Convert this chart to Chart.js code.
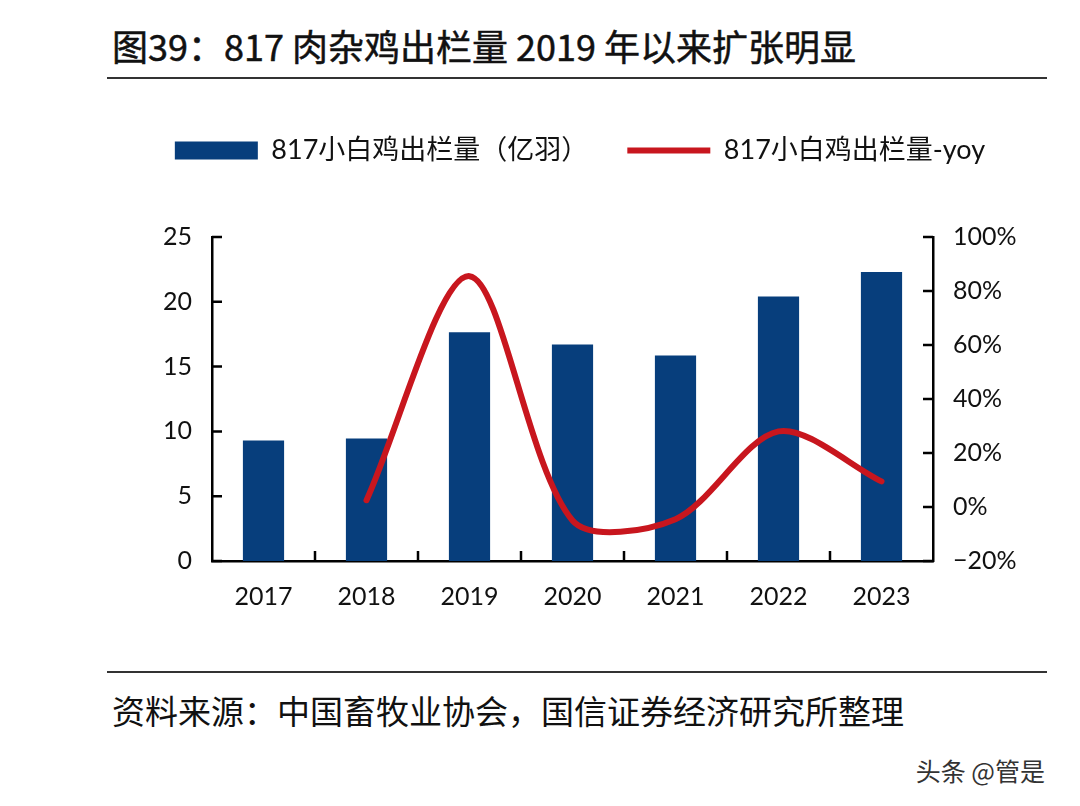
<!DOCTYPE html>
<html lang="zh-CN">
<head>
<meta charset="utf-8">
<title>817 肉杂鸡出栏量</title>
<script src="https://cdn.jsdelivr.net/npm/chart.js@4"></script>
<style>
  html, body { margin: 0; padding: 0; background: #fff; }
  body { width: 1080px; height: 806px; position: relative; overflow: hidden; }
  .zh { font-family: "Noto Sans CJK SC", sans-serif; color: #111; position: absolute; white-space: nowrap; }
  #tytul { left: 112px; top: 20px; font-size: 36px; font-weight: 400; line-height: 50px; -webkit-text-stroke: 0.5px #111; }
  .kreska { position: absolute; left: 107px; width: 940px; height: 2px; background: #333; }
  #zrodlo { left: 112px; top: 688px; font-size: 33px; line-height: 44px; }
  #znak { right: 35px; top: 755px; font-size: 25px; line-height: 30px; color: #333; font-weight: 400; }
  #wykres { position: absolute; left: 80px; top: 98px; }
</style>
</head>
<body>
<div id="tytul" class="zh">图39：817 肉杂鸡出栏量 2019 年以来扩张明显</div>
<div class="kreska" style="top:77px"></div>
<canvas id="wykres" width="1000" height="535"></canvas>
<div class="kreska" style="top:671px"></div>
<div id="zrodlo" class="zh">资料来源：中国畜牧业协会，国信证券经济研究所整理</div>
<div id="znak" class="zh">头条 @管是</div>

<script>
// dane
const lata = ["2017", "2018", "2019", "2020", "2021", "2022", "2023"];
const wolumen = [9.3, 9.45, 17.65, 16.7, 15.85, 20.4, 22.3]; // 亿羽
const dynamikaRdr = [null, 2.5, 85.5, -5, -4.5, 28, 9.5]; // %
const lewaOsTicks = [0, 5, 10, 15, 20, 25];
const prawaOsTicks = [-20, 0, 20, 40, 60, 80, 100];

const GRANAT = "#073e7c";
const CZERWIEN = "#c8161e";
const fontOsi = { family: "Lato, 'Noto Sans CJK SC', sans-serif", size: 25 };

// krotkie kreski osi skierowane do srodka wykresu
const kreskiWewnetrzne = {
  id: "kreskiWewnetrzne",
  afterDatasetsDraw(chart) {
    const ctx = chart.ctx;
    const { x, y, y1 } = chart.scales;
    const dl = 10;
    ctx.save();
    ctx.strokeStyle = "#000";
    ctx.lineWidth = 2.5;
    ctx.beginPath();
    lewaOsTicks.forEach((v) => {
      const py = y.getPixelForValue(v);
      ctx.moveTo(x.left, py);
      ctx.lineTo(x.left + dl, py);
    });
    prawaOsTicks.forEach((v) => {
      const py = y1.getPixelForValue(v);
      ctx.moveTo(x.right, py);
      ctx.lineTo(x.right - dl, py);
    });
    for (let i = 1; i < lata.length; i++) {
      const px = (x.getPixelForValue(i - 1) + x.getPixelForValue(i)) / 2;
      ctx.moveTo(px, y.bottom);
      ctx.lineTo(px, y.bottom - dl);
    }
    ctx.stroke();
    ctx.restore();
  },
};

// dodatkowy odstep pod legenda
const odstepLegendy = {
  id: "odstepLegendy",
  beforeInit(chart) {
    const fitOrig = chart.legend.fit;
    chart.legend.fit = function () {
      fitOrig.bind(chart.legend)();
      this.height += 63;
    };
  },
};

new Chart(document.getElementById("wykres"), {
  type: "bar",
  data: {
    labels: lata,
    datasets: [
      {
        type: "bar",
        label: "817小白鸡出栏量（亿羽）",
        data: wolumen,
        backgroundColor: GRANAT,
        borderWidth: 0,
        barPercentage: 0.4,
        categoryPercentage: 1,
        pointStyle: "rect",
        yAxisID: "y",
        order: 1,
      },
      {
        type: "line",
        label: "817小白鸡出栏量-yoy",
        data: dynamikaRdr,
        borderColor: CZERWIEN,
        backgroundColor: CZERWIEN,
        borderWidth: 6,
        pointRadius: 0,
        pointStyle: "line",
        tension: 0.3,
        borderCapStyle: "round",
        yAxisID: "y1",
        order: 0,
      },
    ],
  },
  options: {
    responsive: false,
    animation: false,
    devicePixelRatio: 1,
    layout: { padding: 0 },
    plugins: {
      tooltip: { enabled: false },
      legend: {
        position: "top",
        labels: {
          usePointStyle: true,
          pointStyleWidth: 83,
          boxHeight: 18,
          padding: 39,
          color: "#111",
          font: { family: "Lato, 'Noto Sans CJK SC', sans-serif", size: 27 },
          sort: (a, b) => a.datasetIndex - b.datasetIndex,
        },
      },
    },
    scales: {
      x: {
        offset: true,
        grid: { display: false, offset: true, drawTicks: false },
        border: { display: true, color: "#000", width: 2.5 },
        ticks: { color: "#111", font: fontOsi, padding: 21 },
      },
      y: {
        position: "left",
        min: 0,
        max: 25,
        grid: { display: false, drawTicks: false },
        border: { display: true, color: "#000", width: 2.5 },
        ticks: { stepSize: 5, color: "#111", font: fontOsi, padding: 20 },
        afterFit: (s) => { s.width = 132; },
      },
      y1: {
        position: "right",
        min: -20,
        max: 100,
        grid: { display: false, drawTicks: false },
        border: { display: true, color: "#000", width: 2.5 },
        ticks: {
          stepSize: 20,
          color: "#111",
          font: fontOsi,
          padding: 20,
          callback: (v) => (v < 0 ? "\u2212" + Math.abs(v) : v) + "%",
        },
        afterFit: (s) => { s.width = 147; },
      },
    },
  },
  plugins: [kreskiWewnetrzne, odstepLegendy],
});
</script>
</body>
</html>
